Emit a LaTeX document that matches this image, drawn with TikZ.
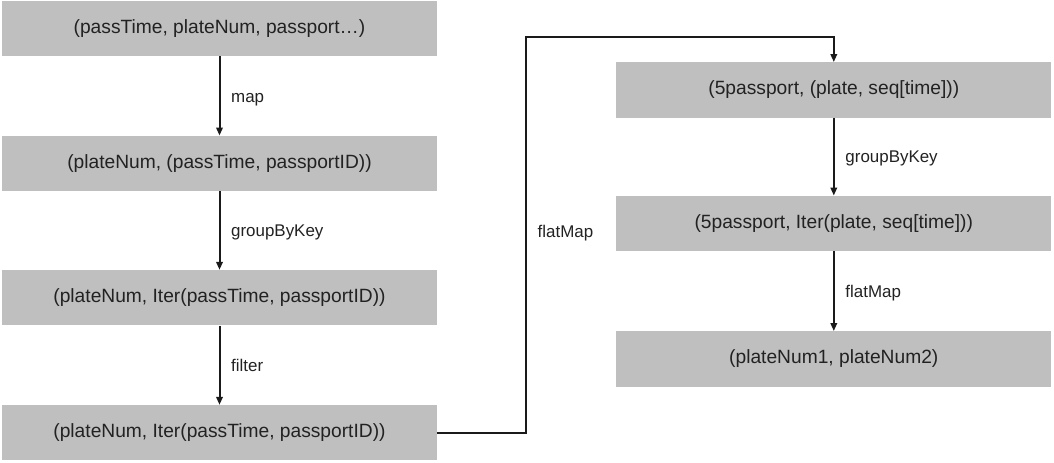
\documentclass[tikz,border=0pt]{standalone}
\usepackage{fontspec}
\setmainfont{Liberation Sans}
\usepackage{xcolor}
\usepackage{tikz}
\usetikzlibrary{arrows.meta}
\definecolor{boxfill}{HTML}{BFBFBF}
\definecolor{ink}{HTML}{1A1A1A}
\definecolor{txt}{HTML}{222222}
\tikzset{
  box/.style={fill=boxfill, draw=none, inner sep=0pt, minimum width=326pt, minimum height=41.5pt, text=txt, font=\fontsize{14.4pt}{17pt}\selectfont},
  flow/.style={draw=ink, line width=1.5pt, -{Triangle[length=6pt,width=4.8pt]}},
  lab/.style={inner sep=0pt, text height=1ex, text depth=0pt, yshift=-2pt, text=txt, font=\fontsize{12.7pt}{15pt}\selectfont}
}

\begin{document}
\begin{tikzpicture}[x=0.75pt,y=-0.75pt]
  \useasboundingbox (0,0) rectangle (1054,462);

  \node[box] (L1) at (219.5,28.5) {(passTime, plateNum, passport\dots)};
  \node[box] (L2) at (219.5,163.5) {(plateNum, (passTime, passportID))};
  \node[box] (L3) at (219.5,297.8) {(plateNum, Iter(passTime, passportID))};
  \node[box] (L4) at (219.5,432.8) {(plateNum, Iter(passTime, passportID))};

  \node[box] (R1) at (833.8,90) {(5passport, (plate, seq[time]))};
  \node[box] (R2) at (833.8,223.5) {(5passport, Iter(plate, seq[time]))};
  \node[box] (R3) at (833.8,359) {(plateNum1, plateNum2)};

  \draw[flow] (L1) -- node[lab,right=8pt] {map} (L2);
  \draw[flow] (L2) -- node[lab,right=8pt] {groupByKey} (L3);
  \draw[flow] (L3) -- node[lab,right=8pt] {filter} (L4);

  \coordinate (up) at (526,37);
  \draw[flow] (L4.east) -| node[lab,right=8pt,pos=0.755] {flatMap} (up) -| (R1.north);

  \draw[flow] (R1) -- node[lab,right=8pt] {groupByKey} (R2);
  \draw[flow] (R2) -- node[lab,right=8pt] {flatMap} (R3);
\end{tikzpicture}
\end{document}
